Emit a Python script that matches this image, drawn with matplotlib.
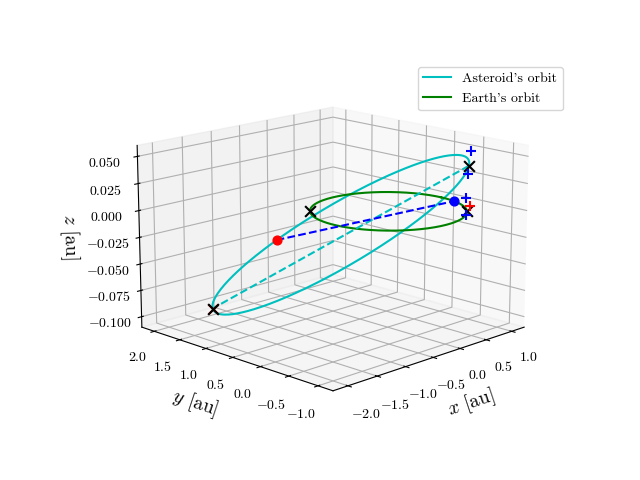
import numpy as np
import matplotlib
matplotlib.use("Agg")
import matplotlib.pyplot as plt

plt.rcParams["mathtext.fontset"] = "cm"
plt.rcParams["font.family"] = "serif"
plt.rcParams["font.serif"] = ["cmr10"]
plt.rcParams["axes.formatter.use_mathtext"] = True

# asteroid orbital elements
a_ast = 1.64
e_ast = 0.38
inc_deg = 3.3
omega_deg = 135.0
Omega_deg = -45.0 - omega_deg

# marked positions
ast_node_nu = [-136.0]            # red dot on asteroid orbit (deg)
earth_dot_deg = [-15.0]           # blue dot on Earth's orbit (deg)
earth_x_deg = [135.0, -45.0]      # black crosses on Earth's orbit
blue_plus_xyz = [(0.73, -0.73, 0.055), (0.71, -0.71, 0.034),
                 (0.70, -0.70, 0.012), (0.70, -0.70, -0.004)]
red_plus_xyz = [(0.73, -0.73, 0.004)]

x_ticks = [-2.0, -1.5, -1.0, -0.5, 0.0, 0.5, 1.0]
y_ticks = [-1.0, -0.5, 0.0, 0.5, 1.0, 1.5, 2.0]
z_ticks = [-0.100, -0.075, -0.050, -0.025, 0.000, 0.025, 0.050]

def orbit_pos(nu):
    r = a_ast * (1 - e_ast**2) / (1 + e_ast * np.cos(nu))
    i, O, w = np.radians([inc_deg, Omega_deg, omega_deg])
    u = w + nu
    x = r * (np.cos(O) * np.cos(u) - np.sin(O) * np.sin(u) * np.cos(i))
    y = r * (np.sin(O) * np.cos(u) + np.cos(O) * np.sin(u) * np.cos(i))
    z = r * np.sin(u) * np.sin(i)
    return x, y, z

def earth_pos(deg):
    t = np.radians(np.asarray(deg))
    return np.cos(t), np.sin(t), 0 * t

nu = np.linspace(0, 2 * np.pi, 400)
th = np.linspace(0, 2 * np.pi, 400)
fig = plt.figure(figsize=(6.4, 4.8), dpi=100)
ax = fig.add_subplot(projection="3d")
ax.plot(*orbit_pos(nu), color="c", label="Asteroid's orbit")
ax.plot(np.cos(th), np.sin(th), 0 * th, color="g", label="Earth's orbit")
aps = orbit_pos(np.array([0.0, np.pi]))
ax.plot(*aps, "c--")
rd = orbit_pos(np.radians(ast_node_nu))
bd = earth_pos(earth_dot_deg)
ax.plot([rd[0][0], bd[0][0]], [rd[1][0], bd[1][0]], [rd[2][0], bd[2][0]], "b--")
ax.scatter(*rd, color="r", s=40, depthshade=False)
ax.scatter(*bd, color="b", s=40, depthshade=False)
ax.scatter(*orbit_pos(np.array([np.pi])), color="r", marker="x", s=50, depthshade=False)
ax.scatter(*aps, color="k", marker="x", s=60, depthshade=False)
ax.scatter(*earth_pos(earth_x_deg), color="k", marker="x", s=60, depthshade=False)
bp = np.array(blue_plus_xyz).T
ax.scatter(bp[0], bp[1], bp[2], color="b", marker="+", s=60, depthshade=False)
rp = np.array(red_plus_xyz).T
ax.scatter(rp[0], rp[1], rp[2], color="r", marker="+", s=60, depthshade=False)

ax.set_xlim(-2.25, 1.25); ax.set_ylim(-1.25, 2.25); ax.set_zlim(-0.11, 0.06)
ax.view_init(elev=15, azim=-135)
ax.set_box_aspect((4, 4, 2.75), zoom=1.13)
ax.set_xlabel(r"$x$ [au]", fontsize=14)
ax.set_ylabel(r"$y$ [au]", fontsize=14)
ax.set_zlabel(r"$z$ [au]", fontsize=14)
ax.set_xticks(x_ticks)
ax.set_yticks(y_ticks)
ax.set_zticks(z_ticks)
ax.legend(loc="upper right", bbox_to_anchor=(0.89, 0.875), bbox_transform=fig.transFigure)
fig.savefig("out.png")
